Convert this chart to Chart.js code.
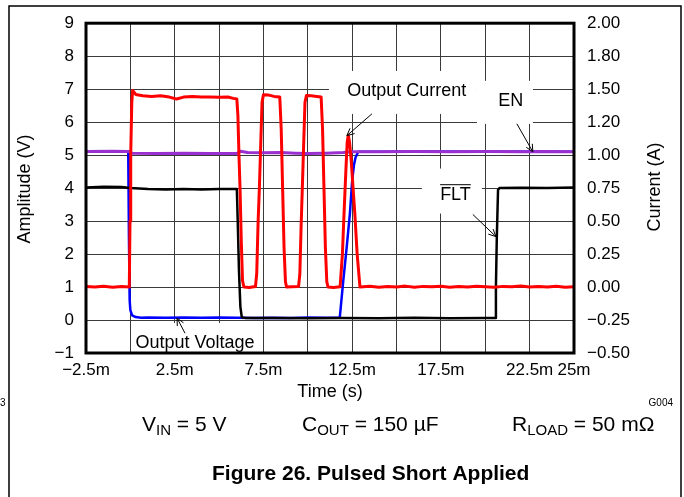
<!DOCTYPE html>
<html>
<head>
<meta charset="utf-8">
<title>Figure 26. Pulsed Short Applied</title>
<script src="https://cdn.jsdelivr.net/npm/chart.js@4.4.1/dist/chart.umd.min.js"></script>
<style>
  html, body { margin: 0; padding: 0; background: #fff; }
  #wrap { position: relative; width: 684px; height: 497px; }
</style>
</head>
<body>
<div id="wrap"><canvas id="pulse-chart" width="684" height="497"></canvas></div>
<script>
// -----------------------------------------------
// Data (time in ms)
// -----------------------------------------------

// Tick labels
const xTickLabels = ['−2.5m', '', '2.5m', '', '7.5m', '', '12.5m', '', '17.5m', '', '22.5m', '25m'];
const leftTickLabels = ['−1', '0', '1', '2', '3', '4', '5', '6', '7', '8', '9'];
const rightTickLabels = ['−0.50', '−0.25', '0.00', '0.25', '0.50', '0.75', '1.00', '1.20', '1.50', '1.80', '2.00'];

// Output current (A, right axis)
const currentTime = [
  -2.5, -2.0, -1.5, -1.0, -0.5, -0.06, -0.02, 0.02, 0.08, 0.13, 0.3, 0.7, 1.2, 1.7, 2.2, 2.6, 3.0, 3.5, 4.0, 4.5, 5.0, 5.5, 5.8, 6.0,
  6.06, 6.12, 6.18, 6.25, 6.32, 6.4, 6.7, 7.05,
  7.12, 7.2, 7.27, 7.35, 7.42, 7.5, 7.8, 8.1, 8.42, 8.5, 8.58, 8.66, 8.74, 8.8, 9.1, 9.48,
  9.55, 9.62, 9.69, 9.77, 9.84, 9.92, 10.2, 10.5, 10.75, 10.83, 10.91, 10.99, 11.07, 11.14, 11.45, 11.82,
  11.95, 12.04, 12.15, 12.22, 12.28, 12.35, 12.45, 12.55, 12.65, 12.78, 12.94,
  13.5, 14.0, 14.5, 15.0, 15.5, 16.0, 16.5, 17.0, 17.5, 18.0, 18.5, 19.0, 19.5, 20.0, 20.5, 21.0, 21.5, 22.0, 22.5, 23.0, 23.5, 24.0, 24.5, 25.0
];
const currentAmps = [
  0.005, 0.0, 0.006, -0.002, 0.004, 0.0, 0.5, 1.0, 1.4, 1.49, 1.46, 1.45, 1.445, 1.45, 1.44, 1.425, 1.44, 1.445, 1.44, 1.44, 1.438, 1.44, 1.43, 1.425,
  1.3, 1.0, 0.75, 0.35, 0.05, 0.0, -0.003, 0.004,
  0.1, 0.5, 0.75, 1.1, 1.4, 1.458, 1.455, 1.445, 1.44, 1.2, 0.75, 0.3, 0.04, 0.0, 0.003, 0.005,
  0.1, 0.45, 0.75, 1.1, 1.4, 1.452, 1.45, 1.445, 1.44, 1.2, 0.75, 0.3, 0.04, 0.0, -0.003, 0.003,
  0.25, 0.555, 0.9, 1.1, 1.15, 1.1, 0.95, 0.75, 0.555, 0.25, 0.0,
  0.006, -0.002, 0.004, 0.001, 0.007, -0.001, 0.005, 0.002, 0.006, -0.002, 0.004, 0.0, 0.006, 0.003, -0.001, 0.005, 0.002, 0.007, 0.0, 0.004, 0.001, 0.006, -0.001, 0.003
];

// Output voltage (V, left axis)
const voutTime = [
  -2.5, -1.5, -0.5, -0.12, -0.08, -0.04, 0.0, 0.1, 0.3, 0.6, 1.0, 2.0, 3.0, 4.0, 5.0, 6.0, 7.0, 8.0, 9.0, 10.0, 11.0, 11.8,
  12.0, 12.19, 12.37, 12.5, 12.6, 12.69, 12.84, 14.0, 17.0, 20.0, 23.0, 25.0
];
const voutVolts = [
  5.1, 5.11, 5.1, 5.1, 2.5, 0.6, 0.3, 0.14, 0.09, 0.07, 0.08, 0.07, 0.08, 0.07, 0.08, 0.07, 0.06, 0.07, 0.06, 0.08, 0.07, 0.07,
  1.2, 2.2, 3.22, 4.23, 4.7, 4.93, 5.1, 5.1, 5.11, 5.1, 5.11, 5.1
];

// EN (V, left axis)
const enTime = [
  -2.5, -1.0, -0.1, 0.1, 1.5, 3.0, 4.5, 6.0, 6.2, 6.6, 7.5, 8.5, 9.3, 10.0, 11.0, 12.0, 12.5, 14.0, 16.0, 18.0, 20.0, 22.0, 23.5, 25.0
];
const enVolts = [
  5.11, 5.12, 5.11, 5.06, 5.05, 5.06, 5.05, 5.05, 5.12, 5.08, 5.07, 5.08, 5.06, 5.05, 5.06, 5.08, 5.1, 5.1, 5.11, 5.1, 5.11, 5.1, 5.11, 5.1
];

// FLT (V, left axis)
const fltTime = [
  -2.5, -1.5, -0.5, 0.0, 1.0, 2.0, 3.0, 4.0, 5.0, 6.0, 6.05, 6.12, 6.2, 6.28, 6.5, 8.0, 10.0, 12.0, 14.0, 16.0, 18.0, 20.0, 20.55,
  20.6, 20.65, 20.72, 20.8, 22.0, 23.5, 25.0
];
const fltVolts = [
  4.02, 4.04, 4.03, 4.0, 3.97, 3.96, 3.97, 3.96, 3.97, 3.97, 3.0, 1.5, 0.4, 0.08, 0.06, 0.06, 0.05, 0.06, 0.05, 0.07, 0.05, 0.06, 0.06,
  1.0, 2.5, 3.95, 4.0, 4.01, 4.0, 4.02
];

// Callout labels: text anchor, white box and arrow, all in data units (ms, V)
const calloutText = ['Output Current', 'EN', 'FLT', 'Output Voltage'];
const calloutAt = [[15.58, 6.95], [21.44, 6.63], [18.32, 3.80], [3.64, -0.70]];
const calloutBoxAt = [[15.36, 6.90], [21.11, 6.60], [18.12, 3.91], [3.64, -0.53]];
const calloutBoxSize = [[148, 43], [56, 43], [60, 45], [126, 29]];
const calloutArrow = [
  [[13.61, 6.25], [12.20, 5.59]],
  [[21.78, 5.95], [22.68, 5.10]],
  [[19.30, 3.20], [20.60, 2.53]],
  [[3.08, -0.40], [2.63, 0.06]]
];

const FONT = '"Liberation Sans", Arial, Helvetica, sans-serif';

function points(xs, ys) {
  return xs.map((x, i) => ({ x: x, y: ys[i] }));
}

// -----------------------------------------------
// Extra drawing: callouts, frame, titles, conditions
// -----------------------------------------------
function drawArrow(ctx, x1, y1, x2, y2) {
  const a = Math.atan2(y2 - y1, x2 - x1);
  const len = 8;
  ctx.beginPath();
  ctx.moveTo(x1, y1);
  ctx.lineTo(x2, y2);
  ctx.moveTo(x2 - len * Math.cos(a - 0.45), y2 - len * Math.sin(a - 0.45));
  ctx.lineTo(x2, y2);
  ctx.lineTo(x2 - len * Math.cos(a + 0.45), y2 - len * Math.sin(a + 0.45));
  ctx.stroke();
}

const figureText = {
  id: 'figureText',
  beforeDatasetsDraw(chart) {
    const ctx = chart.ctx;
    const sx = chart.scales.x, sy = chart.scales.y;
    ctx.save();
    ctx.fillStyle = '#fff';
    calloutBoxAt.forEach((p, i) => {
      const cx = sx.getPixelForValue(p[0]);
      const cy = sy.getPixelForValue(p[1]);
      const w = calloutBoxSize[i][0], h = calloutBoxSize[i][1];
      ctx.fillRect(cx - w / 2, cy - h / 2, w, h);
    });
    ctx.restore();
  },
  afterDatasetsDraw(chart) {
    const ctx = chart.ctx;
    const area = chart.chartArea;
    const sx = chart.scales.x, sy = chart.scales.y;
    ctx.save();

    // heavy plot border
    ctx.strokeStyle = '#000';
    ctx.lineWidth = 3;
    ctx.strokeRect(area.left, area.top, area.right - area.left, area.bottom - area.top);

    // callout texts and arrows
    ctx.fillStyle = '#000';
    ctx.font = '18px ' + FONT;
    ctx.textAlign = 'center';
    ctx.textBaseline = 'middle';
    ctx.lineWidth = 1;
    calloutText.forEach((t, i) => {
      const x = sx.getPixelForValue(calloutAt[i][0]);
      const y = sy.getPixelForValue(calloutAt[i][1]);
      ctx.fillText(t, x, y);
      if (t === 'FLT') {
        const w = ctx.measureText(t).width;
        ctx.beginPath();
        ctx.moveTo(x - w / 2, y - 10);
        ctx.lineTo(x + w / 2, y - 10);
        ctx.stroke();
      }
      const a = calloutArrow[i];
      drawArrow(ctx,
        sx.getPixelForValue(a[0][0]), sy.getPixelForValue(a[0][1]),
        sx.getPixelForValue(a[1][0]), sy.getPixelForValue(a[1][1]));
    });
    ctx.restore();
  },
  afterDraw(chart) {
    const ctx = chart.ctx;
    ctx.save();
    ctx.fillStyle = '#000';
    ctx.strokeStyle = '#000';

    // page frame
    ctx.lineWidth = 1.5;
    ctx.beginPath();
    ctx.moveTo(9, 497);
    ctx.lineTo(9, 6);
    ctx.lineTo(681, 6);
    ctx.lineTo(681, 497);
    ctx.stroke();

    // axis titles
    ctx.font = '18px ' + FONT;
    ctx.textAlign = 'center';
    ctx.textBaseline = 'middle';
    ctx.fillText('Time (s)', 330, 392);
    [['Amplitude (V)', 25, 189], ['Current (A)', 655, 187]].forEach(t => {
      ctx.save();
      ctx.translate(t[1], t[2]);
      ctx.rotate(-Math.PI / 2);
      ctx.fillText(t[0], 0, 0);
      ctx.restore();
    });

    // graph id
    ctx.font = '10px ' + FONT;
    ctx.textAlign = 'right';
    ctx.fillText('G004', 673, 403);
    ctx.textAlign = 'left';
    ctx.fillText('3', 0, 403);

    // test conditions with subscripts
    ctx.textBaseline = 'alphabetic';
    const conditions = [
      [142, 'V', 'IN', ' = 5 V'],
      [302, 'C', 'OUT', ' = 150 µF'],
      [512, 'R', 'LOAD', ' = 50 mΩ']
    ];
    conditions.forEach(c => {
      let x = c[0];
      ctx.font = '21px ' + FONT;
      ctx.fillText(c[1], x, 431);
      x += ctx.measureText(c[1]).width;
      ctx.font = '15px ' + FONT;
      ctx.fillText(c[2], x, 435);
      x += ctx.measureText(c[2]).width;
      ctx.font = '21px ' + FONT;
      ctx.fillText(c[3], x, 431);
    });

    // caption
    ctx.font = 'bold 21px ' + FONT;
    ctx.textAlign = 'left';
    ctx.fillText('Figure 26. Pulsed Short Applied', 212, 480);
    ctx.restore();
  }
};

// -----------------------------------------------
// Chart
// -----------------------------------------------
document.addEventListener('DOMContentLoaded', function() {
  const canvas = document.getElementById('pulse-chart');
  const tickFont = { family: FONT, size: 17 };

  new Chart(canvas, {
    type: 'line',
    data: {
      datasets: [
        {
          label: 'Output Current',
          data: points(currentTime, currentAmps),
          yAxisID: 'y1',
          borderColor: '#ff0000',
          borderWidth: 3,
          order: 1
        },
        {
          label: 'FLT',
          data: points(fltTime, fltVolts),
          yAxisID: 'y',
          borderColor: '#000000',
          borderWidth: 2.5,
          order: 2
        },
        {
          label: 'EN',
          data: points(enTime, enVolts),
          yAxisID: 'y',
          borderColor: '#9b30d0',
          borderWidth: 3,
          order: 3
        },
        {
          label: 'Output Voltage',
          data: points(voutTime, voutVolts),
          yAxisID: 'y',
          borderColor: '#0000ff',
          borderWidth: 2.5,
          order: 4
        }
      ]
    },
    options: {
      responsive: false,
      animation: false,
      events: [],
      elements: {
        point: { radius: 0 },
        line: { tension: 0, borderJoinStyle: 'round', borderCapStyle: 'round' }
      },
      layout: { padding: { left: 0, right: 30, top: 22, bottom: 104 } },
      plugins: {
        legend: { display: false },
        tooltip: { enabled: false }
      },
      scales: {
        x: {
          type: 'linear',
          min: -2.5,
          max: 25,
          ticks: {
            stepSize: 2.5,
            autoSkip: false,
            maxRotation: 0,
            padding: 7,
            color: '#000',
            font: tickFont,
            callback: (v, i) => xTickLabels[i]
          },
          grid: { color: '#3a3a3a', lineWidth: 1, drawTicks: false },
          border: { display: false },
          afterFit: s => { s.height = 40; }
        },
        y: {
          position: 'left',
          min: -1,
          max: 9,
          ticks: {
            stepSize: 1,
            padding: 12,
            color: '#000',
            font: tickFont,
            callback: (v, i) => leftTickLabels[i]
          },
          grid: { color: '#3a3a3a', lineWidth: 1, drawTicks: false },
          border: { display: false },
          afterFit: s => { s.width = 86; }
        },
        y1: {
          position: 'right',
          min: -0.5,
          max: 2.0,
          ticks: {
            stepSize: 0.25,
            padding: 13,
            color: '#000',
            font: tickFont,
            callback: (v, i) => rightTickLabels[i]
          },
          grid: { display: false, drawTicks: false },
          border: { display: false },
          afterFit: s => { s.width = 80; }
        }
      }
    },
    plugins: [figureText]
  });
});
</script>
</body>
</html>
